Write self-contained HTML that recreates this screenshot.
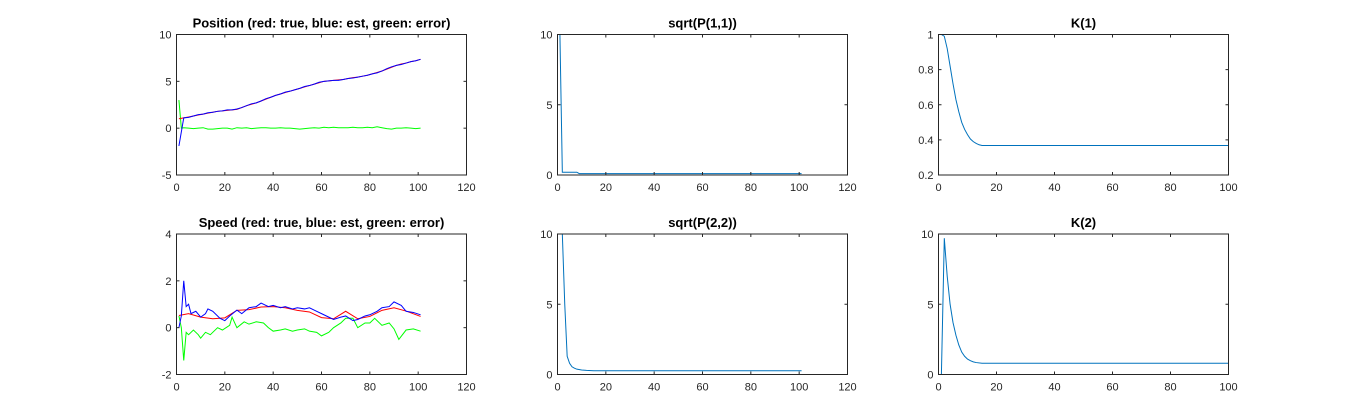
<!DOCTYPE html>
<html><head><meta charset="utf-8"><style>
html,body{margin:0;padding:0;background:#fff;}
svg{display:block;font-family:"Liberation Sans",Arial,sans-serif;}
</style></head><body>
<svg id="fig" width="1358" height="420" viewBox="0 0 1358 420" xmlns="http://www.w3.org/2000/svg"></svg>
<script>
// ---- data ----
const tOdd = [];
for (let t = 1; t <= 101; t += 2) tOdd.push(t);
const posTrue = [1.0,1.1,1.2,1.3,1.4,1.5,1.6,1.7,1.8,1.85,1.9,1.95,2.0,2.2,2.4,2.55,2.7,2.9,3.1,3.3,3.5,3.65,3.8,3.95,4.1,4.25,4.4,4.55,4.7,4.85,5.0,5.05,5.1,5.15,5.2,5.3,5.4,5.45,5.55,5.65,5.8,5.95,6.1,6.3,6.5,6.7,6.85,6.95,7.1,7.2,7.35];
const posEst = [-1.9,1.1,1.15,1.3,1.45,1.5,1.65,1.7,1.8,1.85,1.95,1.95,2.05,2.2,2.4,2.6,2.7,2.9,3.15,3.3,3.5,3.65,3.85,3.95,4.1,4.25,4.45,4.55,4.7,4.9,5.0,5.05,5.1,5.1,5.2,5.3,5.35,5.45,5.55,5.65,5.8,5.9,6.1,6.35,6.55,6.7,6.8,6.95,7.1,7.2,7.35];
const posErrT = [1,2,3,5,7,9,11,13,15,17,19,21,23,25,27,29,31,33,35,37,39,41,43,45,47,49,51,53,55,57,59,61,63,65,67,69,71,73,75,77,79,81,83,85,87,89,91,93,95,97,99,101];
const posErr = [3.0,0.0,0.05,0.0,-0.05,0.0,0.05,-0.1,-0.1,-0.05,0.0,0.0,-0.1,0.05,0.0,0.05,-0.05,0.0,0.05,0.05,0.0,0.0,0.05,0.0,0.0,-0.05,-0.1,-0.05,0.0,0.05,0.0,0.1,0.05,0.1,0.05,0.05,0.05,0.1,0.05,0.05,0.1,0.05,0.15,0.05,-0.05,-0.1,0.0,0.0,0.05,0.0,-0.05,0.0];
const spdTrueT = [1,5,10,15,20,25,30,35,40,45,50,55,60,65,70,75,80,85,90,95,101];
const spdTrue = [0.52,0.6,0.45,0.38,0.42,0.74,0.77,0.88,0.9,0.85,0.74,0.67,0.43,0.38,0.7,0.38,0.48,0.74,0.85,0.71,0.48];
const spdEstT = [1,2,3,4,5,6,8,10,12,13,15,18,20,22,25,27,30,33,35,38,40,43,45,48,50,53,55,58,60,63,65,68,70,73,75,78,80,83,85,88,90,93,95,98,101];
const spdEst = [0.0,0.5,2.0,0.9,1.0,0.6,0.7,0.45,0.6,0.8,0.7,0.4,0.3,0.5,0.75,0.6,0.85,0.9,1.05,0.9,0.95,0.85,0.9,0.8,0.85,0.8,0.85,0.7,0.6,0.45,0.35,0.45,0.5,0.3,0.35,0.5,0.55,0.7,0.85,0.9,1.1,0.95,0.7,0.65,0.55];
const spdErrT = [1,2,3,4,5,7,9,10,12,14,17,19,22,23,25,28,30,33,36,38,40,43,45,48,50,53,55,58,60,63,65,68,70,73,75,78,80,82,85,88,90,92,95,98,101];
const spdErr = [0.5,0.0,-1.4,-0.2,-0.3,-0.1,-0.3,-0.45,-0.2,-0.3,0.0,-0.1,0.1,0.45,0.0,0.25,0.15,0.25,0.2,0.0,-0.15,-0.1,-0.05,-0.15,-0.1,-0.05,-0.15,-0.2,-0.35,-0.2,0.0,0.2,0.4,0.4,0.0,0.2,0.2,0.4,0.1,0.2,-0.05,-0.5,-0.1,-0.05,-0.15];
const p11T = [1,2,8,9,101];
const p11 = [10,0.2,0.2,0.1,0.1];
const p22T = [1,2,3,4,5,6,7,8,10,12,15,20,101];
const p22 = [10,10,5.0,1.3,0.8,0.55,0.45,0.38,0.32,0.29,0.27,0.27,0.27];
const k1T = [1,2,3,4,5,6,7,8,9,10,11,12,13,14,15,101];
const k1 = [1.0,0.99,0.92,0.82,0.72,0.63,0.56,0.5,0.46,0.43,0.405,0.39,0.38,0.372,0.368,0.368];
const k2T = [1,2,3,4,5,6,7,8,9,10,11,12,13,15,101];
const k2 = [0,9.7,7.0,5.0,3.7,2.8,2.1,1.6,1.3,1.1,0.98,0.9,0.85,0.8,0.8];
const xTicks120 = [0,20,40,60,80,100,120];
const xTicks100 = [0,20,40,60,80,100];

// ---- drawing ----
const NS = "http://www.w3.org/2000/svg";
const svg = document.getElementById('fig');
function mk(tag, attrs, parent) {
  const e = document.createElementNS(NS, tag);
  for (const k in attrs) e.setAttribute(k, attrs[k]);
  (parent || svg).appendChild(e);
  return e;
}
function panel(name, title, L, T, W, H, xMax, yMin, yMax, xTicks, yTicks, series) {
  const g = mk('g', {});
  
  
  const sx = v => L + v / xMax * W;
  const sy = v => T + H - (v - yMin) / (yMax - yMin) * H;
  const clipId = name + '-clip';
  const cp = mk('clipPath', {id: clipId}, g);
  mk('rect', {x: L, y: T, width: W, height: H}, cp);
  series.forEach(s => {
    const pts = s.x.map((t, i) => sx(t).toFixed(2) + ',' + sy(s.y[i]).toFixed(2)).join(' ');
    const pl = mk('polyline', {points: pts, fill: 'none', stroke: s.c, 'stroke-width': 1, 'clip-path': 'url(#' + clipId + ')'}, g);
    
    
  });
  const box = mk('rect', {x: L, y: T, width: W, height: H, fill: 'none', stroke: '#262626', 'stroke-width': 1}, g);
  
  
  xTicks.forEach(v => {
    const x = sx(v);
    mk('line', {x1: x, x2: x, y1: T + H, y2: T + H - 3, stroke: '#262626'}, g);
    mk('line', {x1: x, x2: x, y1: T, y2: T + 3, stroke: '#262626'}, g);
    const tx = mk('text', {x: x, y: T + H + 16, 'font-size': 11, fill: '#262626', 'text-anchor': 'middle'}, g);
    tx.textContent = v;
    
    
  });
  yTicks.forEach(v => {
    const y = sy(v);
    mk('line', {x1: L, x2: L + 3, y1: y, y2: y, stroke: '#262626'}, g);
    mk('line', {x1: L + W, x2: L + W - 3, y1: y, y2: y, stroke: '#262626'}, g);
    const tx = mk('text', {x: L - 5, y: y + 4, 'font-size': 11, fill: '#262626', 'text-anchor': 'end'}, g);
    tx.textContent = v;
    
    
  });
  const tt = mk('text', {x: L + W / 2, y: T - 7, 'font-size': 13, 'font-weight': 'bold', fill: '#000', 'text-anchor': 'middle'}, g);
  tt.textContent = title;
  
  
}
const R1 = 34.5, R2 = 234, H = 140.5;
panel('position-panel', 'Position (red: true, blue: est, green: error)', 176.5, R1, 290, H, 120, -5, 10, xTicks120, [-5,0,5,10], [
  {n: 'position-error-line', x: posErrT, y: posErr, c: '#00ff00'},
  {n: 'position-true-line', x: tOdd, y: posTrue, c: '#ff0000'},
  {n: 'position-est-line', x: tOdd, y: posEst, c: '#0000ff'}]);
panel('p11-panel', 'sqrt(P(1,1))', 557.5, R1, 290, H, 120, 0, 10, xTicks120, [0,5,10], [
  {n: 'p11-line', x: p11T, y: p11, c: '#0072bd'}]);
panel('k1-panel', 'K(1)', 938.5, R1, 290, H, 100, 0.2, 1, xTicks100, [0.2,0.4,0.6,0.8,1], [
  {n: 'k1-line', x: k1T, y: k1, c: '#0072bd'}]);
panel('speed-panel', 'Speed (red: true, blue: est, green: error)', 176.5, R2, 290, H, 120, -2, 4, xTicks120, [-2,0,2,4], [
  {n: 'speed-error-line', x: spdErrT, y: spdErr, c: '#00ff00'},
  {n: 'speed-true-line', x: spdTrueT, y: spdTrue, c: '#ff0000'},
  {n: 'speed-est-line', x: spdEstT, y: spdEst, c: '#0000ff'}]);
panel('p22-panel', 'sqrt(P(2,2))', 557.5, R2, 290, H, 120, 0, 10, xTicks120, [0,5,10], [
  {n: 'p22-line', x: p22T, y: p22, c: '#0072bd'}]);
panel('k2-panel', 'K(2)', 938.5, R2, 290, H, 100, 0, 10, xTicks100, [0,5,10], [
  {n: 'k2-line', x: k2T, y: k2, c: '#0072bd'}]);
</script>
</body></html>
